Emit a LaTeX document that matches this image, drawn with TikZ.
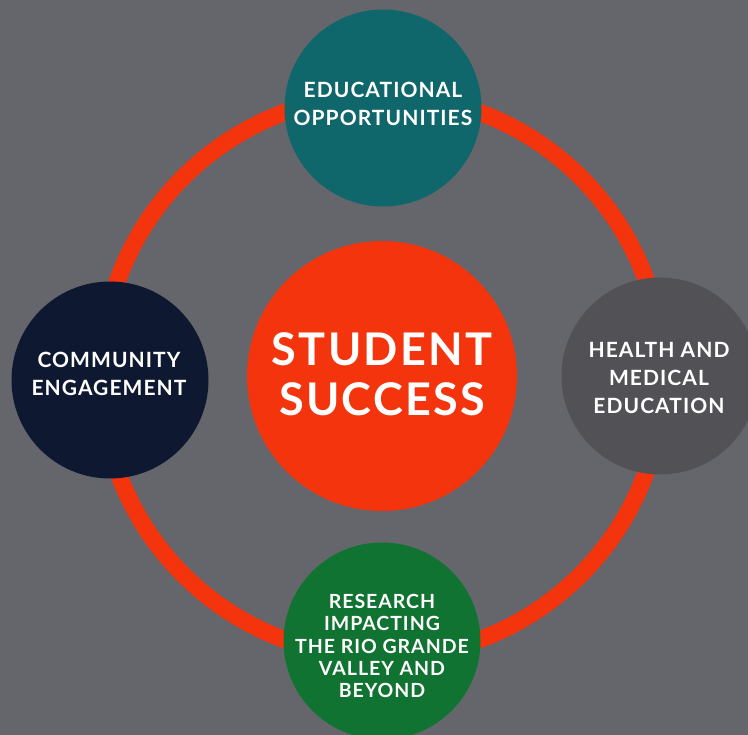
\documentclass[tikz,border=0pt]{standalone}
\usepackage{fontspec}
\setmainfont{Lato}[LetterSpace=5]

\definecolor{slate}{RGB}{101,102,107}
\definecolor{flame}{RGB}{244,52,12}
\definecolor{teal}{RGB}{15,102,107}
\definecolor{navy}{RGB}{14,24,48}
\definecolor{ash}{RGB}{82,81,86}
\definecolor{pine}{RGB}{17,115,49}

\begin{document}
\begin{tikzpicture}[x=1pt,y=-1pt,
    hub/.style={circle,minimum size=197pt,inner sep=0pt},
    lbl/.style={text=white,align=center,inner sep=0pt,
                font=\bfseries\fontsize{21}{28}\selectfont}]

% background
\fill[slate] (0,0) rectangle (748,735);
\useasboundingbox (0,0) rectangle (748,735);
\clip (0,0) rectangle (748,735);

% centre
\node[hub,fill=flame,minimum size=270pt] (succ) at (382,376) {};

% ring
\draw[flame,line width=17pt] (succ.center) circle (281pt);

% pillars
\node[hub,fill=teal] (edu)  at (383,108) {};
\node[hub,fill=navy] (comm) at (110,380) {};
\node[hub,fill=ash]  (med)  at (660,376) {};
\node[hub,fill=pine] (res)  at (382,641) {};

% labels
\node[lbl,font=\bfseries\fontsize{45}{50}\selectfont] (succ-t) at (382,374)
    {STUDENT\\SUCCESS};
\node[lbl] (edu-t)  at (383,104) {EDUCATIONAL\\OPPORTUNITIES};
\node[lbl] (comm-t) at (109,374) {COMMUNITY\\ENGAGEMENT};
\node[lbl] (med-t)  at (659,378) {HEALTH AND\\MEDICAL\\EDUCATION};
\node[lbl,font=\bfseries\fontsize{19.5}{22.3}\selectfont] (res-t) at (382,646)
    {RESEARCH\\IMPACTING\\THE RIO GRANDE\\VALLEY AND\\BEYOND};

\end{tikzpicture}
\end{document}
